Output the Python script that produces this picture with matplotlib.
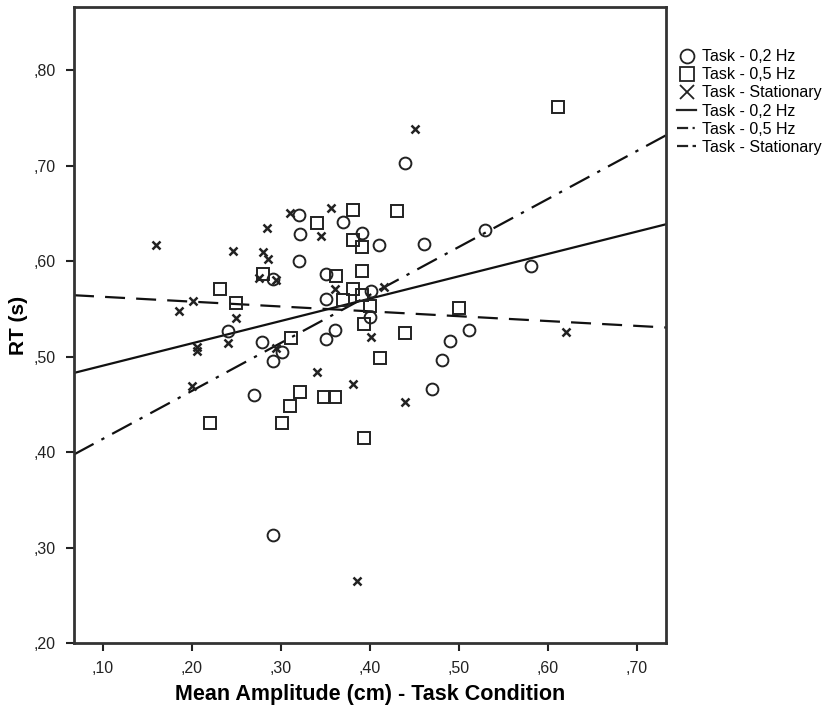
import matplotlib
matplotlib.use("Agg")
import matplotlib.pyplot as plt
from matplotlib.lines import Line2D
import numpy as np

plt.rcParams['font.family'] = ['Liberation Sans', 'DejaVu Sans']

# Task - 0,2 Hz (circles)
amp_02 = [0.320, 0.321, 0.320, 0.370, 0.391, 0.410, 0.291, 0.351, 0.351, 0.401,
          0.400, 0.361, 0.240, 0.351, 0.279, 0.291, 0.301, 0.270, 0.291, 0.440,
          0.461, 0.530, 0.511, 0.490, 0.481, 0.470, 0.581]
rt_02 = [0.648, 0.628, 0.600, 0.641, 0.630, 0.617, 0.581, 0.587, 0.560, 0.569,
         0.542, 0.528, 0.527, 0.519, 0.515, 0.495, 0.505, 0.460, 0.313, 0.703,
         0.618, 0.633, 0.528, 0.516, 0.496, 0.466, 0.595]

# Task - 0,5 Hz (squares)
amp_05 = [0.381, 0.341, 0.381, 0.391, 0.391, 0.362, 0.381, 0.391, 0.370, 0.400,
          0.394, 0.280, 0.231, 0.250, 0.311, 0.411, 0.321, 0.349, 0.361, 0.310,
          0.301, 0.394, 0.220, 0.431, 0.500, 0.440, 0.611]
rt_05 = [0.654, 0.640, 0.622, 0.615, 0.590, 0.584, 0.571, 0.565, 0.559, 0.553,
         0.534, 0.587, 0.571, 0.556, 0.520, 0.499, 0.463, 0.458, 0.458, 0.448,
         0.431, 0.415, 0.431, 0.653, 0.551, 0.525, 0.762]

# Task - Stationary (crosses)
amp_st = [0.160, 0.246, 0.280, 0.284, 0.285, 0.275, 0.295, 0.201, 0.186, 0.250,
          0.356, 0.310, 0.345, 0.361, 0.416, 0.401, 0.206, 0.206, 0.241, 0.200,
          0.294, 0.341, 0.381, 0.440, 0.386, 0.621, 0.451]
rt_st = [0.617, 0.611, 0.610, 0.635, 0.602, 0.582, 0.580, 0.558, 0.548, 0.540,
         0.656, 0.651, 0.626, 0.571, 0.573, 0.521, 0.510, 0.506, 0.514, 0.469,
         0.509, 0.484, 0.471, 0.453, 0.265, 0.526, 0.739]

# fit lines (intercept, slope)
fit_02 = (0.4672, 0.234)
fit_05 = (0.3637, 0.5024)
fit_st = (0.5678, -0.0508)

xlim = (0.0674, 0.733)
ylim = (0.20, 0.866)

fig = plt.figure(figsize=(8.25, 7.12), dpi=100)
ax = fig.add_axes([0.0897, 0.0969, 0.7176, 0.8928])

mk = dict(linestyle='none', markerfacecolor='none', markeredgecolor='#222222', zorder=3)
ax.plot(amp_02, rt_02, 'o', markersize=8.5, markeredgewidth=1.4, **mk)
ax.plot(amp_05, rt_05, 's', markersize=8, markeredgewidth=1.4, **mk)
ax.plot(amp_st, rt_st, 'x', markersize=6, markeredgewidth=1.8, **mk)

xx = np.array(xlim)
ax.plot(xx, fit_02[0] + fit_02[1] * xx, color='#111111', lw=1.6, zorder=2)
l5, = ax.plot(xx, fit_05[0] + fit_05[1] * xx, color='#111111', lw=1.6, zorder=2)
l5.set_dashes([10, 4, 1.5, 4])
ls, = ax.plot(xx, fit_st[0] + fit_st[1] * xx, color='#111111', lw=1.6, zorder=2)
ls.set_dashes([9, 5])

ax.set_xlim(xlim)
ax.set_ylim(ylim)
ax.set_xticks([0.1, 0.2, 0.3, 0.4, 0.5, 0.6, 0.7])
ax.set_xticklabels([',10', ',20', ',30', ',40', ',50', ',60', ',70'])
ax.set_yticks([0.2, 0.3, 0.4, 0.5, 0.6, 0.7, 0.8])
ax.set_yticklabels([',20', ',30', ',40', ',50', ',60', ',70', ',80'])
ax.tick_params(direction='out', length=6, width=1.5, labelsize=11.5, colors='#222222', pad=7)
for s in ax.spines.values():
    s.set_linewidth(2)
    s.set_color('#333333')

ax.set_xlabel('Mean Amplitude (cm) - Task Condition', fontsize=15.5, fontweight='bold', labelpad=6)
ax.set_ylabel('RT (s)', fontsize=15, fontweight='bold', labelpad=4)

handles = [
    Line2D([], [], marker='o', linestyle='none', markerfacecolor='none', markeredgecolor='#222222', markersize=10, markeredgewidth=1.3),
    Line2D([], [], marker='s', linestyle='none', markerfacecolor='none', markeredgecolor='#222222', markersize=10, markeredgewidth=1.3),
    Line2D([], [], marker='x', linestyle='none', color='#222222', markersize=10, markeredgewidth=1.3),
    Line2D([], [], color='#222222', lw=1.6),
    Line2D([], [], color='#222222', lw=1.6, dashes=[5, 2, 1, 2]),
    Line2D([], [], color='#222222', lw=1.6, dashes=[5, 2]),
]
labels = ['Task - 0,2 Hz', 'Task - 0,5 Hz', 'Task - Stationary',
          'Task - 0,2 Hz', 'Task - 0,5 Hz', 'Task - Stationary']
fig.legend(handles, labels, loc='upper left', bbox_to_anchor=(0.813, 0.94),
           frameon=False, fontsize=11.5, handlelength=1.2, handletextpad=0.35,
           labelspacing=0.2, borderaxespad=0)

fig.savefig('out.png', dpi=100)
